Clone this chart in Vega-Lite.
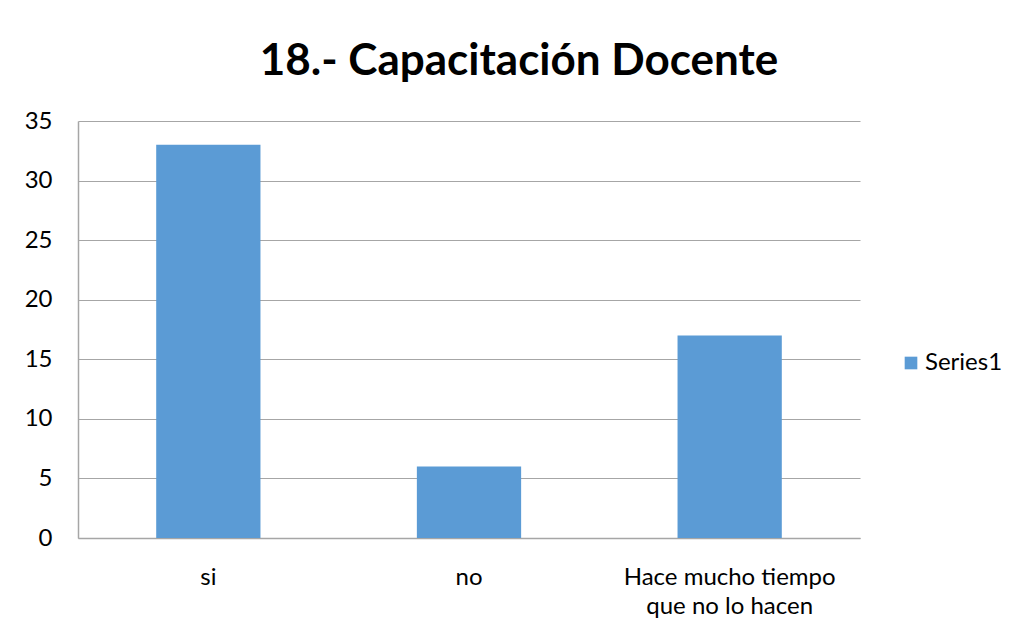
{
  "$schema": "https://vega.github.io/schema/vega-lite/v6.json",
  "autosize": "none",
  "width": 782,
  "height": 417,
  "padding": {"left": 78, "top": 121, "right": 156, "bottom": 93},
  "background": "white",
  "title": {
    "text": "18.- Capacitación Docente",
    "font": "Lato",
    "fontSize": 44,
    "fontWeight": "bold",
    "color": "#000000",
    "anchor": "middle",
    "dx": 50,
    "offset": 25
  },
  "data": {
    "values": [
      {"respuesta": "si", "valor": 33, "serie": "Series1"},
      {"respuesta": "no", "valor": 6, "serie": "Series1"},
      {"respuesta": "Hace mucho tiempo que no lo hacen", "valor": 17, "serie": "Series1"}
    ]
  },
  "mark": {"type": "bar"},
  "encoding": {
    "x": {
      "field": "respuesta",
      "type": "nominal",
      "sort": null,
      "title": null,
      "scale": {"paddingInner": 0.6, "paddingOuter": 0.3},
      "axis": {
        "labelAngle": 0,
        "labelFont": "Lato",
        "labelFontSize": 24,
        "labelColor": "#000000",
        "labelPadding": 39,
        "labelLineHeight": 29,
        "labelLimit": 400,
        "labelBaseline": "middle",
        "labelExpr": "datum.label == 'Hace mucho tiempo que no lo hacen' ? ['Hace mucho tiempo', 'que no lo hacen'] : datum.label",
        "ticks": false,
        "domainColor": "#a6a6a6",
        "domainWidth": 1.5
      }
    },
    "y": {
      "field": "valor",
      "type": "quantitative",
      "title": null,
      "scale": {"domain": [0, 35]},
      "axis": {
        "values": [0, 5, 10, 15, 20, 25, 30, 35],
        "labelFont": "Lato",
        "labelFontSize": 24,
        "labelColor": "#000000",
        "labelPadding": 26,
        "ticks": false,
        "domainColor": "#a6a6a6",
        "domainWidth": 1.5,
        "gridColor": "#a6a6a6",
        "gridWidth": 1.2
      }
    },
    "color": {
      "field": "serie",
      "type": "nominal",
      "scale": {"range": ["#5b9bd5"]},
      "legend": {
        "title": null,
        "orient": "none",
        "legendX": 821,
        "legendY": 230,
        "symbolType": "square",
        "symbolSize": 160,
        "symbolStrokeWidth": 0,
        "labelFont": "Lato",
        "labelFontSize": 24,
        "labelColor": "#000000",
        "labelOffset": 2,
        "labelLimit": 200
      }
    }
  },
  "config": {"view": {"stroke": null}}
}
